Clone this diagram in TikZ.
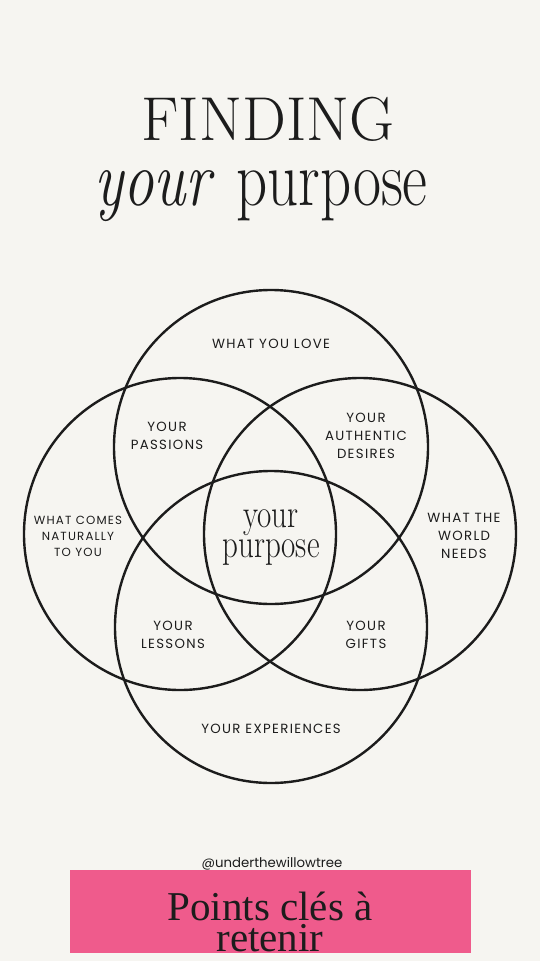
\documentclass[tikz,border=0pt]{standalone}
\usepackage{fontspec}
\usepackage{graphicx}
\newfontfamily\labfont[LetterSpace=10]{Poppins}
\newfontfamily\handlefont{Poppins}
\newfontfamily\pinkfont{Liberation Serif}
\definecolor{bg}{HTML}{F6F5F1}
\definecolor{ink}{HTML}{1C1C1C}
\definecolor{rose}{HTML}{EF5B8C}
\tikzset{
  ring/.style={draw=ink, line width=2.4pt},
  lab/.style={text=ink, align=center, font=\labfont\fontsize{13.3}{18}\selectfont, inner sep=0pt},
  labs/.style={lab, font=\labfont\fontsize{11.8}{16}\selectfont},
}
\begin{document}
\begin{tikzpicture}[x=1pt,y=-1pt]
\fill[bg] (0,0) rectangle (540,961);
\useasboundingbox (0,0) rectangle (540,961);
% title
\node[anchor=base, text=ink, inner sep=0pt] (t1) at (268,140) {\fontsize{62}{62}\selectfont FINDING};
\node[anchor=base, text=ink, inner sep=0pt] (t2) at (261,205) {\scalebox{1}[1.3]{\fontsize{61}{61}\selectfont\itshape your\/\ \upshape purpose}};
% circles
\draw[ring] (271,447) circle[radius=157];
\draw[ring] (180,534) circle[radius=156];
\draw[ring] (360,534) circle[radius=156];
\draw[ring] (271,627) circle[radius=156];
% labels
\node[lab] (love) at (271,344) {WHAT YOU LOVE};
\node[lab] (pass) at (167,436) {YOUR\\PASSIONS};
\node[lab] (auth) at (366,436) {YOUR\\AUTHENTIC\\DESIRES};
\node[labs] (nat) at (78,536) {WHAT COMES\\NATURALLY\\TO YOU};
\node[lab] (world) at (464,536) {WHAT THE\\WORLD\\NEEDS};
\node[lab] (less) at (173,635) {YOUR\\LESSONS};
\node[lab] (gift) at (366,635) {YOUR\\GIFTS};
\node[lab] (exp) at (271,729) {YOUR EXPERIENCES};
\node[text=ink, inner sep=0pt, align=center] (centre) at (271,536) {\scalebox{1}[1.3]{\fontsize{31}{24}\selectfont\begin{tabular}{@{}c@{}}your\\[-1pt]purpose\end{tabular}}};
% footer
\node[anchor=base, text=ink, inner sep=0pt] (handle) at (272,867) {\handlefont\fontsize{13.3}{13.3}\selectfont @underthewillowtree};
\fill[rose] (70,870) rectangle (471,953);
\node[anchor=base, text=ink, inner sep=0pt, align=center, font=\pinkfont\fontsize{41}{31}\selectfont] (pts) at (270,951) {Points clés à\\retenir};
\end{tikzpicture}
\end{document}
